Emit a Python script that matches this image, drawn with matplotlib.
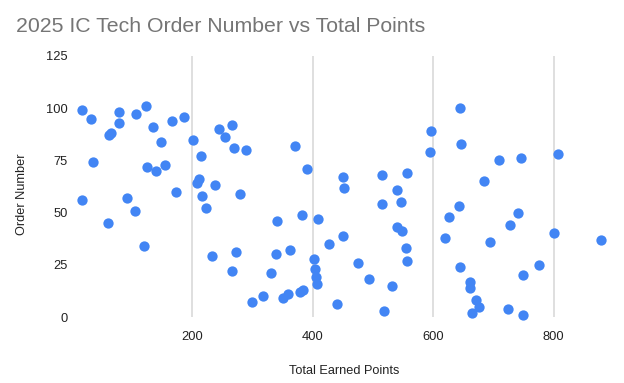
import matplotlib
matplotlib.use("Agg")
import matplotlib.pyplot as plt

# total earned points vs order number
points = [17, 32, 79, 79, 107, 124, 62, 66, 136, 166, 187, 149, 202, 244, 266, 255,
          269, 289, 36, 126, 141, 155, 215, 212, 209, 238, 280, 173, 17, 92, 217, 105,
          224, 61, 121, 233, 273, 266, 300, 341, 382, 409, 515, 546, 339, 362, 331, 317,
          351, 359, 380, 384, 402, 404, 405, 407, 428, 450, 441, 475, 493, 532, 518, 541,
          549, 555, 557, 371, 391, 451, 452, 515, 557, 540, 596, 595, 645, 646, 709, 746,
          808, 685, 643, 741, 627, 727, 620, 694, 801, 879, 645, 775, 750, 661, 661, 671,
          677, 665, 725, 750]
order = [99, 95, 98, 93, 97, 101, 87, 88, 91, 94, 96, 84, 85, 90, 92, 86,
         81, 80, 74, 72, 70, 73, 77, 66, 64, 63, 59, 60, 56, 57, 58, 51,
         52, 45, 34, 29, 31, 22, 7, 46, 49, 47, 54, 55, 30, 32, 21, 10,
         9, 11, 12, 13, 28, 23, 19, 16, 35, 39, 6, 26, 18, 15, 3, 43,
         41, 33, 27, 82, 71, 67, 62, 68, 69, 61, 89, 79, 100, 83, 75, 76,
         78, 65, 53, 50, 48, 44, 38, 36, 40, 37, 24, 25, 20, 17, 14, 8,
         5, 2, 4, 1]

x_ticks = [200, 400, 600, 800]
y_ticks = [0, 25, 50, 75, 100, 125]

plt.rcParams["font.family"] = ["Liberation Sans", "DejaVu Sans"]

fig = plt.figure(figsize=(6.24, 3.83), dpi=100)
ax = fig.add_axes([0.1218, 0.1723, 0.859, 0.6815])
ax.scatter(points, order, s=55, color="#4285f4", linewidths=0, zorder=3, clip_on=False)

ax.set_xlim(7.5, 897)
ax.set_ylim(0, 125)
ax.set_xticks(x_ticks)
ax.set_yticks(y_ticks)
ax.grid(axis="x", color="#d9d9d9", lw=1.2)
ax.tick_params(length=0, labelsize=9.3, colors="#222222")
ax.tick_params(axis="y", pad=6)
ax.tick_params(axis="x", pad=10)
for s in ax.spines.values():
    s.set_visible(False)

ax.set_xlabel("Total Earned Points", fontsize=9.2, color="#222222")
ax.set_ylabel("Order Number", fontsize=9.2, color="#222222")
# label positions in figure pixels, converted to axes coords
ax.xaxis.set_label_coords((344 - 76) / 536, (317 - 371) / 261)
ax.yaxis.set_label_coords((22 - 76) / 536, (317 - 194) / 261)
ax.xaxis.label.set_va("center")
ax.yaxis.label.set_va("center")
fig.text(16 / 624, 1 - 26 / 383, "2025 IC Tech Order Number vs Total Points",
         fontsize=15.3, color="#757575", va="center", ha="left")

fig.savefig("out.png", dpi=100)
